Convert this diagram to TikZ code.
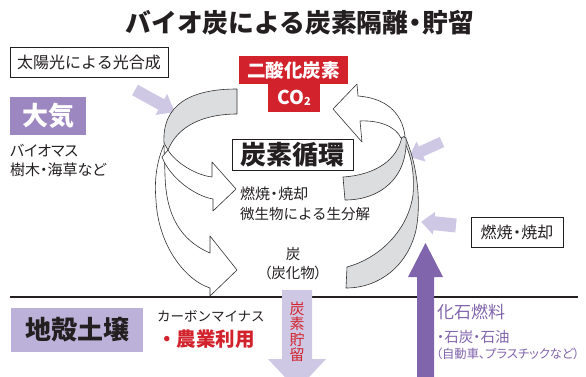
\documentclass[tikz,border=0pt]{standalone}
\usepackage{fontspec}
\setmainfont{Noto Sans CJK JP}
\newfontfamily\jpp{Noto Sans CJK JP}[RawFeature=+palt]
\usetikzlibrary{calc}
\definecolor{lav}{RGB}{207,200,228}
\definecolor{airpurple}{RGB}{157,135,193}
\definecolor{soilpurple}{RGB}{188,177,216}
\definecolor{fossil}{RGB}{128,100,172}
\definecolor{cored}{RGB}{210,35,45}
\definecolor{bandgray}{RGB}{220,221,223}
\definecolor{edge}{RGB}{50,50,50}
\definecolor{ink}{RGB}{35,31,32}
\newcommand{\ndot}{\kern-0.22em・\kern-0.22em}
\begin{document}
\begin{tikzpicture}[x=1pt,y=-1pt,
  every node/.style={inner sep=0pt,outer sep=0pt,text=ink},
  band/.style={fill=bandgray,draw=edge,line width=0.6pt,line join=round},
  wband/.style={fill=white,draw=edge,line width=0.6pt,line join=round},
  framebox/.style={draw=ink,line width=0.8pt,fill=white},
  fs/.style={font=\fontsize{#1}{#1}\selectfont},
  fsp/.style={font=\jpp\fontsize{#1}{#1}\selectfont},
  fsb/.style={font=\bfseries\fontsize{#1}{#1}\selectfont}]
\useasboundingbox (0,0) rectangle (586,376);
\clip (0,0) rectangle (586,376);

% title
\node[fsb=25.8] (title) at (300,23) {バイオ炭による炭素隔離\ndot 貯留};

% photosynthesis box
\node[framebox,fs=16,minimum width=158pt,minimum height=30pt] (sun) at (89,62) {太陽光による光合成};

% atmosphere
\node[fill=airpurple,minimum width=76pt,minimum height=38pt,fsb=26,text=white] (air) at (48,116) {大気};
\node[fsp=15,anchor=west] (bio1) at (10,151) {バイオマス};
\node[fsp=15,anchor=west] (bio2) at (10,170) {樹木・海草など};

% CO2
\node[fill=cored,minimum width=109pt,minimum height=28pt,fsb=18.5,text=white] (co2a) at (293.5,70) {二酸化炭素};
\node[fill=cored,minimum width=52pt,minimum height=28pt,fsb=19,text=white] (co2b) at (294,98) {CO\raisebox{-0.5pt}{\fontsize{11}{11}\selectfont 2}};

% light arrows
\begin{scope}[shift={(135,90)},rotate=-28.8]
\fill[lav] (0,-6) -- (30,-6) -- (30,-12) -- (45.6,0) -- (30,12) -- (30,6) -- (0,6) -- cycle;
\end{scope}
\begin{scope}[shift={(442,142)},rotate=-155.6]
\fill[lav] (0,-5.5) -- (23,-5.5) -- (23,-11) -- (36,0) -- (23,11) -- (23,5.5) -- (0,5.5) -- cycle;
\end{scope}
\begin{scope}[shift={(456,225.5)},rotate=174]
\fill[lav] (0,-7) -- (22,-7) -- (22,-11.5) -- (35,0) -- (22,11.5) -- (22,7) -- (0,7) -- cycle;
\end{scope}

% ===== left ribbon =====
\path[wband] (164,145) .. controls (157,160) and (154,180) .. (156,200)
  .. controls (158,245) and (185,280) .. (210,288)
  -- (210,296) -- (237,270) -- (210,236) -- (210,253)
  .. controls (180,240) and (166,215) .. (165,175) -- cycle;
\path[wband] (168,150) .. controls (175,162) and (195,175) .. (212,177)
  -- (212,162) -- (236,189) -- (213,211) -- (213,199)
  .. controls (195,196) and (170,178) .. (162,157) -- cycle;
\path[band] (237,89) -- (237,114) .. controls (205,114) and (178,125) .. (168,150)
  -- (164,143) .. controls (162,105) and (190,89) .. (237,89) -- cycle;

% ===== right ribbon =====
\path[band] (405,137) .. controls (416,160) and (422,200) .. (416,230)
  .. controls (408,265) and (380,288) .. (346,288) -- (347,267)
  .. controls (380,258) and (408,230) .. (413,195)
  .. controls (415,170) and (410,150) .. (402,139) -- cycle;
\path[band] (402,136) .. controls (398,160) and (375,175) .. (343,177) -- (345,200)
  .. controls (380,200) and (408,178) .. (406,138) -- cycle;
\path[wband] (333,109) -- (357,84) -- (358,96) .. controls (385,98) and (402,112) .. (405,136)
  -- (401,138) .. controls (396,127) and (380,120) .. (360,121) -- (362,142) -- cycle;

% carbon cycle label
\node[framebox,fsb=26,minimum width=121pt,minimum height=31pt] (cycle) at (292.5,154.5) {炭素循環};
\node[fs=15,anchor=west] (burn1) at (240,194) {燃焼\ndot 焼却};
\node[fs=14.5,anchor=west] (burn2) at (240,214) {微生物による生分解};
\node[fs=14.5] (char1) at (293,254) {炭};
\node[fsp=14.5] (char2) at (293,273) {（炭化物）};

% ground line
\coordinate (gl) at (10,297);
\coordinate (gr) at (578,297);
\draw[line width=2.8pt,ink] (gl) -- (gr);

% soil
\node[fill=soilpurple,minimum width=132pt,minimum height=44pt,fsb=26] (soil) at (77,330) {地殻土壌};
\node[fs=13.5,anchor=west] (minus) at (157,316) {カーボンマイナス};
\node[font=\bfseries\fontsize{19.5}{19.5}\selectfont,text=cored,anchor=west] (agri) at (157,339) {・農業利用};

% storage arrow
\fill[lav] (282,290) -- (312,290) -- (312,359) -- (326,359) -- (297,390) -- (268,359) -- (282,359) -- cycle;
\node[text=cored,align=center,font=\fontsize{15}{15.5}\selectfont] (store) at (297,332) {炭\\素\\貯\\留};

% fossil arrow
\fill[fossil] (417,380) -- (417,277) -- (408,277) -- (425.5,243) -- (443,277) -- (434,277) -- (434,380) -- cycle;
\node[framebox,fs=16,minimum width=92pt,minimum height=30pt] (burnbox) at (517,232) {燃焼\ndot 焼却};
\node[fs=17,text=fossil,anchor=west] (fuel) at (437,312) {化石燃料};
\node[fsp=14.5,text=fossil,anchor=west] (fuel2) at (437,337) {・石炭・石油};
\node[fsp=12.3,text=fossil,anchor=west] (fuel3) at (436,354) {（自動車、プラスチックなど）};
\end{tikzpicture}
\end{document}
